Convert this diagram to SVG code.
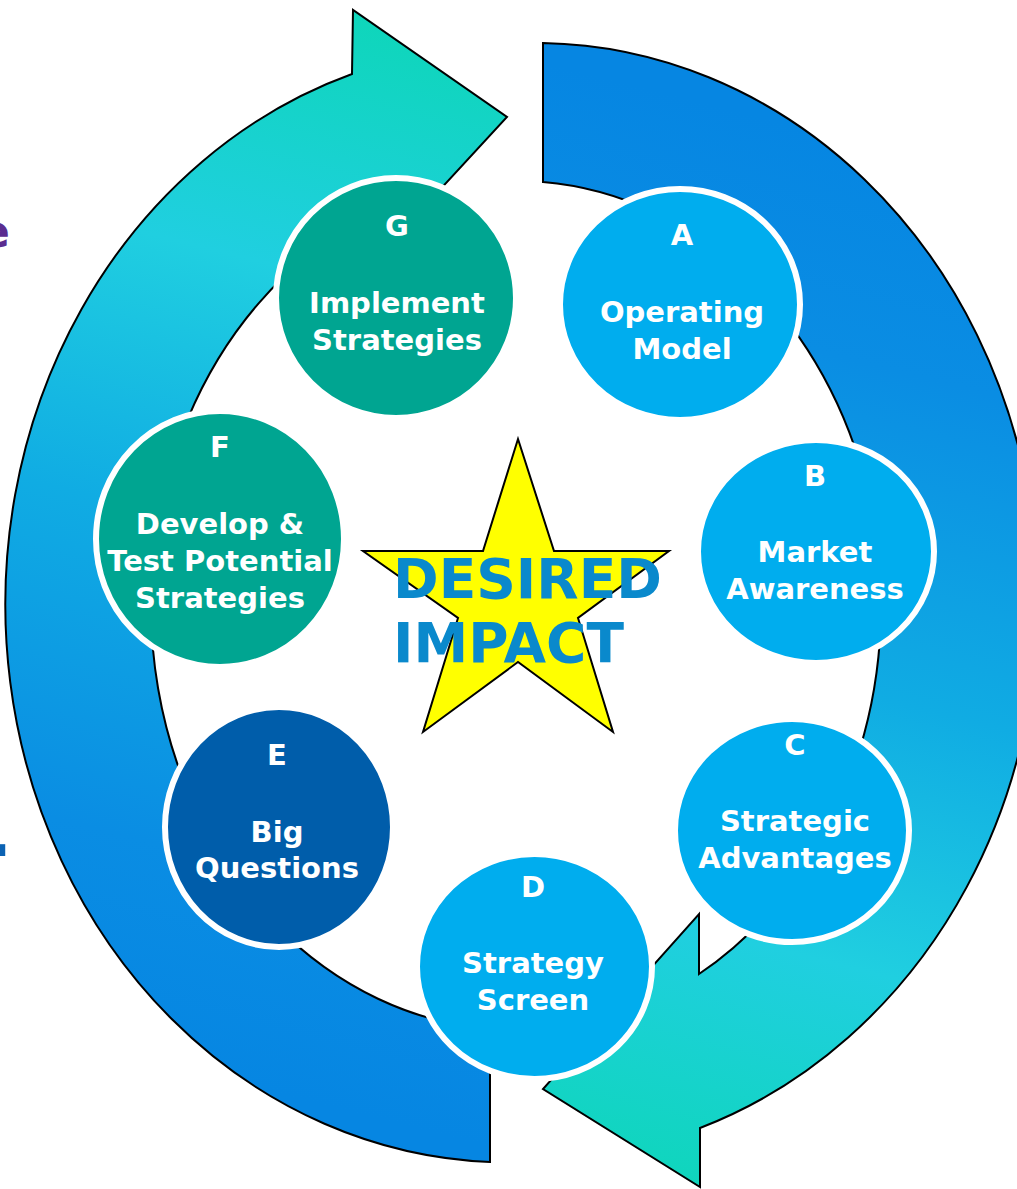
<svg xmlns="http://www.w3.org/2000/svg" width="1017" height="1189" viewBox="0 0 1017 1189">
<defs>
<linearGradient id="gL" gradientUnits="userSpaceOnUse" x1="300" y1="1100" x2="560" y2="60">
<stop offset="0" stop-color="#0686E2"/>
<stop offset="0.2" stop-color="#0A8DE3"/>
<stop offset="0.5" stop-color="#10ACE3"/>
<stop offset="0.75" stop-color="#20CFE0"/>
<stop offset="1" stop-color="#0ED6BA"/>
</linearGradient>
<linearGradient id="gR" gradientUnits="userSpaceOnUse" x1="736" y1="110" x2="476" y2="1150">
<stop offset="0" stop-color="#0686E2"/>
<stop offset="0.2" stop-color="#0A8DE3"/>
<stop offset="0.5" stop-color="#10ACE3"/>
<stop offset="0.75" stop-color="#20CFE0"/>
<stop offset="1" stop-color="#0ED6BA"/>
</linearGradient>
<style>
.arrow{stroke:#000;stroke-width:2;stroke-linejoin:miter}
.node{stroke:#fff;stroke-width:6}
.teal{fill:#00A591}
.cyan{fill:#00ADEE}
.navy{fill:#005DAA}
.lbl{font-family:"DejaVu Sans","Verdana",sans-serif;font-weight:bold;font-size:29px;fill:#fff;text-anchor:middle}
.core{font-family:"DejaVu Sans","Verdana",sans-serif;font-weight:bold;font-size:55px;fill:#0A89CC}
</style>
</defs>
<text x="-20" y="247" style="font-family:'DejaVu Sans',sans-serif;font-weight:bold;font-size:44px;fill:#5B2D90">e</text>
<text x="-12" y="856" style="font-family:'DejaVu Sans',sans-serif;font-weight:bold;font-size:62px;fill:#0B62B3">.</text>
<g id="connectors">
<path id="arrow-left" class="arrow" fill="url(#gL)" d="M490,1162 A503,558 0 0 1 352,74 L353,10 L507,117 L352,285 L352,225 A364,425 0 0 0 490,1029 Z"/>
<path id="arrow-right" class="arrow" fill="url(#gR)" d="M543,43 A503,558 0 0 1 700,1128 L700,1187 L543,1089 L699,914 L699,974 A364,425 0 0 0 543,182 Z"/>
</g>
<g id="node-G"><ellipse class="node teal" cx="396" cy="298" rx="120" ry="120"/>
<text class="lbl" x="397" y="236">G</text>
<text class="lbl" x="397" y="313">Implement</text>
<text class="lbl" x="397" y="350">Strategies</text></g>
<g id="node-A"><ellipse class="node cyan" cx="680" cy="304.5" rx="120" ry="115.5"/>
<text class="lbl" x="682" y="245">A</text>
<text class="lbl" x="682" y="322">Operating</text>
<text class="lbl" x="682" y="359">Model</text></g>
<g id="node-B"><ellipse class="node cyan" cx="816" cy="551.5" rx="118" ry="111.5"/>
<text class="lbl" x="815" y="486">B</text>
<text class="lbl" x="815" y="562">Market</text>
<text class="lbl" x="815" y="599">Awareness</text></g>
<g id="node-C"><ellipse class="node cyan" cx="792" cy="830.5" rx="117" ry="111.5"/>
<text class="lbl" x="795" y="755">C</text>
<text class="lbl" x="795" y="831">Strategic</text>
<text class="lbl" x="795" y="868">Advantages</text></g>
<g id="node-D"><ellipse class="node cyan" cx="534.5" cy="966.5" rx="117.5" ry="112.5"/>
<text class="lbl" x="533" y="897">D</text>
<text class="lbl" x="533" y="973">Strategy</text>
<text class="lbl" x="533" y="1010">Screen</text></g>
<g id="node-E"><ellipse class="node navy" cx="279" cy="827" rx="114" ry="120"/>
<text class="lbl" x="277" y="765">E</text>
<text class="lbl" x="277" y="842">Big</text>
<text class="lbl" x="277" y="878">Questions</text></g>
<g id="node-F"><ellipse class="node teal" cx="220" cy="539" rx="124" ry="128"/>
<text class="lbl" x="220" y="457">F</text>
<text class="lbl" x="220" y="534">Develop &amp;</text>
<text class="lbl" x="220" y="571">Test Potential</text>
<text class="lbl" x="220" y="608">Strategies</text></g>
<g id="node-star">
<polygon points="518,439 554,551 669,551 578,618 613,732 518,662 423,732 458,618 363,551 483,551" fill="#FFFF00" stroke="#000" stroke-width="2"/>
<text class="core" x="393" y="598">DESIRED</text>
<text class="core" x="393" y="662">IMPACT</text>
</g>
</svg>
